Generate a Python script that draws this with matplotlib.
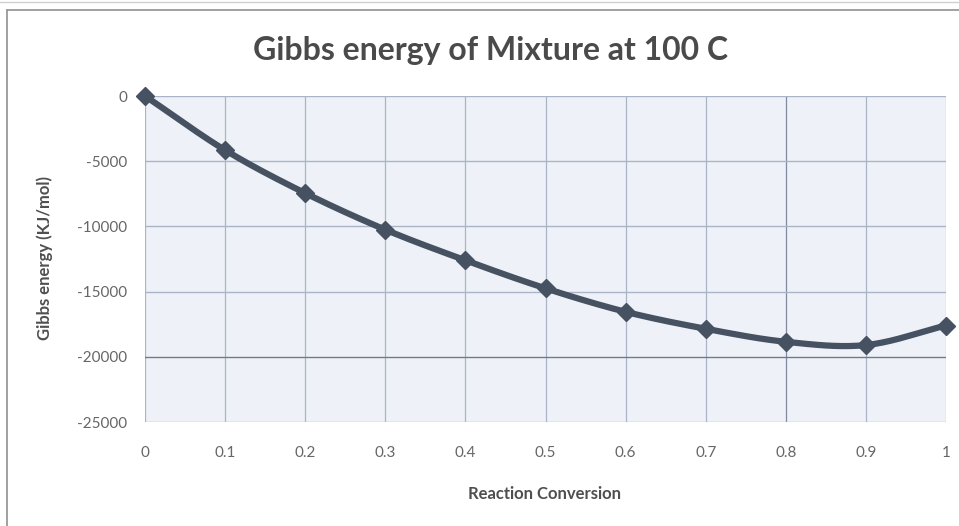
import numpy as np
import matplotlib.pyplot as plt

conversion = [0, 0.1, 0.2, 0.3, 0.4, 0.5, 0.6, 0.7, 0.8, 0.9, 1.0]
gibbs = [0, -4150, -7450, -10250, -12600, -14750, -16550, -17850, -18850, -19100, -17600]

x_ticks = [0, 0.1, 0.2, 0.3, 0.4, 0.5, 0.6, 0.7, 0.8, 0.9, 1]
x_tick_labels = ["0", "0.1", "0.2", "0.3", "0.4", "0.5", "0.6", "0.7", "0.8", "0.9", "1"]
y_ticks = [0, -5000, -10000, -15000, -20000, -25000]

line_color = "#465262"
grid_color = "#a9b4c6"
text_color = "#666666"


def smooth_curve(xs, ys, steps=20):
    # Catmull-Rom style smoothing, like spreadsheet "smoothed line" charts
    xs = np.asarray(xs, float)
    ys = np.asarray(ys, float)
    px = np.concatenate([[2 * xs[0] - xs[1]], xs, [2 * xs[-1] - xs[-2]]])
    py = np.concatenate([[2 * ys[0] - ys[1]], ys, [2 * ys[-1] - ys[-2]]])
    out_x, out_y = [], []
    t = np.linspace(0, 1, steps, endpoint=False)
    for i in range(1, len(px) - 2):
        for p, o in ((px, out_x), (py, out_y)):
            p0, p1, p2, p3 = p[i - 1], p[i], p[i + 1], p[i + 2]
            o.extend(0.5 * ((2 * p1) + (-p0 + p2) * t
                            + (2 * p0 - 5 * p1 + 4 * p2 - p3) * t ** 2
                            + (-p0 + 3 * p1 - 3 * p2 + p3) * t ** 3))
    out_x.append(xs[-1])
    out_y.append(ys[-1])
    return np.array(out_x), np.array(out_y)


plt.rcParams["font.family"] = ["Lato", "DejaVu Sans"]
plt.rcParams["axes.unicode_minus"] = False

W, H = 959, 526
fig = plt.figure(figsize=(W / 100, H / 100), dpi=100)
fig.patch.set_facecolor("white")

# chart frame edges (left and top)
fig.add_artist(plt.Line2D([7 / W, 7 / W], [0, 1 - 10 / H], transform=fig.transFigure,
                          color="#9a9a9a", linewidth=1.3))
fig.add_artist(plt.Line2D([7 / W, 1], [1 - 10 / H, 1 - 10 / H], transform=fig.transFigure,
                          color="#9a9a9a", linewidth=1.3))
fig.add_artist(plt.Line2D([0, 1], [1 - 1.5 / H, 1 - 1.5 / H], transform=fig.transFigure,
                          color="#d0d0d0", linewidth=1.0))

ax = fig.add_axes([145 / W, 1 - 422 / H, (946 - 145) / W, (422 - 96) / H])
ax.set_facecolor("#eef2f8")
ax.set_xlim(0, 1)
ax.set_ylim(-25000, 0)

ax.set_xticks(x_ticks)
ax.set_xticklabels(x_tick_labels)
ax.set_yticks(y_ticks)
ax.tick_params(length=0, labelsize=11, colors=text_color)
ax.tick_params(axis="x", pad=17)
ax.tick_params(axis="y", pad=13)

for x in x_ticks:
    c = "#7f8aa0" if x == 0.8 else grid_color
    ax.axvline(x, color=c, linewidth=0.9, zorder=1)
for y in y_ticks:
    c = "#6f7a90" if y == -20000 else grid_color
    ax.axhline(y, color=c, linewidth=1.0, zorder=1)
for s in ax.spines.values():
    s.set_visible(False)

sx, sy = smooth_curve(conversion, gibbs)
ax.plot(sx, sy, color=line_color, linewidth=4.5, solid_capstyle="round", zorder=3,
        clip_on=False)
ax.plot(conversion, gibbs, linestyle="none", marker="D", markersize=9.5,
        color=line_color, zorder=4, clip_on=False)

fig.text(490 / W, 1 - 60 / H, "Gibbs energy of Mixture at 100 C", ha="center",
         va="baseline", fontsize=23, fontweight="bold", color="#4a4a4a")
fig.text(545 / W, 1 - 494 / H, "Reaction Conversion", ha="center", va="center",
         fontsize=12, fontweight="bold", color="#4f4f4f")
fig.text(45 / W, 1 - 258 / H, "Gibbs energy (KJ/mol)", ha="center", va="center",
         rotation=90, fontsize=12, fontweight="bold", color="#4f4f4f")

fig.savefig("out.png", dpi=100)
